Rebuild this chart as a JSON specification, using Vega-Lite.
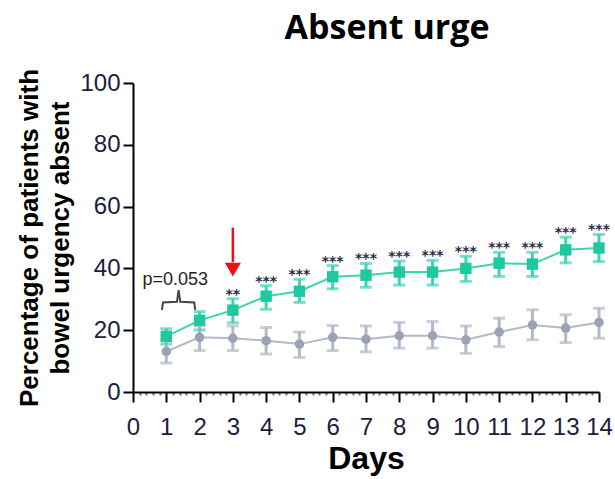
{
  "$schema": "https://vega.github.io/schema/vega-lite/v6.json",
  "width": 466,
  "height": 309,
  "autosize": {"type": "none"},
  "padding": {"left": 133, "top": 83, "right": 16, "bottom": 87},
  "background": "white",
  "title": {"text": "Absent urge", "font": "Open Sans", "fontSize": 34, "fontWeight": "bold", "color": "black", "anchor": "middle", "frame": "group", "dx": 21, "offset": 22},
  "config": {
    "view": {"stroke": null},
    "axis": {"grid": false, "domainColor": "black", "domainWidth": 2, "tickColor": "black", "tickWidth": 2, "tickSize": 10, "labelFont": "Liberation Sans", "labelFontSize": 24, "labelColor": "#1c1c3c", "titleFont": "Liberation Sans", "titleFontWeight": "bold", "titleColor": "black"}
  },
  "datasets": {
    "pts": [
      {"day": 1, "group": "Treatment", "mean": 18.0, "lo": 15.5, "hi": 20.5, "sig": ""},
      {"day": 2, "group": "Treatment", "mean": 23.2, "lo": 20.1, "hi": 26.0, "sig": ""},
      {"day": 3, "group": "Treatment", "mean": 26.5, "lo": 22.4, "hi": 30.2, "sig": "**"},
      {"day": 4, "group": "Treatment", "mean": 31.0, "lo": 26.8, "hi": 34.4, "sig": "***"},
      {"day": 5, "group": "Treatment", "mean": 32.6, "lo": 29.0, "hi": 36.5, "sig": "***"},
      {"day": 6, "group": "Treatment", "mean": 37.3, "lo": 33.4, "hi": 40.9, "sig": "***"},
      {"day": 7, "group": "Treatment", "mean": 37.8, "lo": 33.9, "hi": 41.6, "sig": "***"},
      {"day": 8, "group": "Treatment", "mean": 38.8, "lo": 34.6, "hi": 42.4, "sig": "***"},
      {"day": 9, "group": "Treatment", "mean": 38.8, "lo": 34.6, "hi": 42.6, "sig": "***"},
      {"day": 10, "group": "Treatment", "mean": 40.0, "lo": 35.8, "hi": 43.9, "sig": "***"},
      {"day": 11, "group": "Treatment", "mean": 41.7, "lo": 37.4, "hi": 45.2, "sig": "***"},
      {"day": 12, "group": "Treatment", "mean": 41.4, "lo": 37.4, "hi": 45.2, "sig": "***"},
      {"day": 13, "group": "Treatment", "mean": 46.0, "lo": 41.8, "hi": 50.1, "sig": "***"},
      {"day": 14, "group": "Treatment", "mean": 46.6, "lo": 42.2, "hi": 51.0, "sig": "***"},
      {"day": 1, "group": "Placebo", "mean": 13.1, "lo": 9.4, "hi": 16.9, "sig": ""},
      {"day": 2, "group": "Placebo", "mean": 17.7, "lo": 13.4, "hi": 21.4, "sig": ""},
      {"day": 3, "group": "Placebo", "mean": 17.4, "lo": 13.4, "hi": 21.4, "sig": ""},
      {"day": 4, "group": "Placebo", "mean": 16.6, "lo": 12.3, "hi": 20.9, "sig": ""},
      {"day": 5, "group": "Placebo", "mean": 15.5, "lo": 11.2, "hi": 19.4, "sig": ""},
      {"day": 6, "group": "Placebo", "mean": 17.7, "lo": 13.4, "hi": 21.5, "sig": ""},
      {"day": 7, "group": "Placebo", "mean": 17.1, "lo": 13.0, "hi": 21.4, "sig": ""},
      {"day": 8, "group": "Placebo", "mean": 18.2, "lo": 14.2, "hi": 22.5, "sig": ""},
      {"day": 9, "group": "Placebo", "mean": 18.2, "lo": 14.2, "hi": 22.8, "sig": ""},
      {"day": 10, "group": "Placebo", "mean": 16.9, "lo": 12.5, "hi": 21.4, "sig": ""},
      {"day": 11, "group": "Placebo", "mean": 19.4, "lo": 14.7, "hi": 23.9, "sig": ""},
      {"day": 12, "group": "Placebo", "mean": 21.7, "lo": 16.9, "hi": 26.6, "sig": ""},
      {"day": 13, "group": "Placebo", "mean": 20.7, "lo": 16.0, "hi": 25.0, "sig": ""},
      {"day": 14, "group": "Placebo", "mean": 22.5, "lo": 17.4, "hi": 27.1, "sig": ""}
    ],
    "bracket": [
      {"day": 0.87, "y": 26.6, "o": 1},
      {"day": 0.9, "y": 29.0, "o": 2},
      {"day": 1.32, "y": 29.2, "o": 3},
      {"day": 1.37, "y": 33.0, "o": 4},
      {"day": 1.42, "y": 29.2, "o": 5},
      {"day": 1.84, "y": 29.0, "o": 6},
      {"day": 1.87, "y": 26.6, "o": 7}
    ],
    "notes": [
      {"day": 1.27, "y": 36.3, "text": "p=0.053"}
    ],
    "arrow": [
      {"day": 3, "top": 53.2, "base": 42.0, "tip": 39.6}
    ]
  },
  "encoding": {
    "x": {"field": "day", "type": "quantitative", "scale": {"domain": [0, 14], "nice": false, "zero": false},
      "axis": {"title": "Days", "titleFontSize": 32, "titlePadding": 4, "labelPadding": 13, "labelOverlap": false, "labelFlush": false,
        "values": [0,0.2,0.4,0.6,0.8,1,1.2,1.4,1.6,1.8,2,2.2,2.4,2.6,2.8,3,3.2,3.4,3.6,3.8,4,4.2,4.4,4.6,4.8,5,5.2,5.4,5.6,5.8,6,6.2,6.4,6.6,6.8,7,7.2,7.4,7.6,7.8,8,8.2,8.4,8.6,8.8,9,9.2,9.4,9.6,9.8,10,10.2,10.4,10.6,10.8,11,11.2,11.4,11.6,11.8,12,12.2,12.4,12.6,12.8,13,13.2,13.4,13.6,13.8,14],
        "labelExpr": "datum.value % 1 === 0 ? format(datum.value, 'd') : ''",
        "tickSize": {"condition": {"test": "datum.value % 1 === 0", "value": 10}, "value": 3},
        "tickColor": {"condition": {"test": "datum.value % 1 === 0", "value": "black"}, "value": "#777777"}
      }}
  },
  "layer": [
    {
      "data": {"name": "pts"},
      "mark": {"type": "line", "strokeWidth": 2},
      "encoding": {
        "y": {"field": "mean", "type": "quantitative", "scale": {"domain": [0, 100], "nice": false},
          "axis": {"title": ["Percentage of patients with", "bowel urgency absent"], "titleFontSize": 26, "titleLineHeight": 31, "titlePadding": 6, "labelPadding": 3, "values": [0, 20, 40, 60, 80, 100]}},
        "color": {"field": "group", "type": "nominal", "scale": {"domain": ["Treatment", "Placebo"], "range": ["#3fd3b0", "#b3b9c8"]}, "legend": null}
      }
    },
    {
      "data": {"name": "pts"},
      "mark": {"type": "rule", "strokeWidth": 3},
      "encoding": {
        "y": {"field": "lo", "type": "quantitative", "scale": {"domain": [0, 100], "nice": false}},
        "y2": {"field": "hi"},
        "color": {"field": "group", "type": "nominal", "scale": {"domain": ["Treatment", "Placebo"], "range": ["#1fc89f", "#9aa2b5"]}, "legend": null}
      }
    },
    {
      "data": {"name": "pts"},
      "mark": {"type": "tick", "orient": "horizontal", "size": 12, "thickness": 3},
      "encoding": {
        "y": {"field": "lo", "type": "quantitative", "scale": {"domain": [0, 100], "nice": false}},
        "color": {"field": "group", "type": "nominal", "legend": null}
      }
    },
    {
      "data": {"name": "pts"},
      "mark": {"type": "tick", "orient": "horizontal", "size": 12, "thickness": 3},
      "encoding": {
        "y": {"field": "hi", "type": "quantitative", "scale": {"domain": [0, 100], "nice": false}},
        "color": {"field": "group", "type": "nominal", "legend": null}
      }
    },
    {
      "data": {"name": "pts"},
      "transform": [{"filter": "datum.group === 'Treatment'"}],
      "mark": {"type": "point", "shape": "square", "filled": true, "size": 130, "opacity": 1, "color": "#1fc89f"},
      "encoding": {
        "y": {"field": "mean", "type": "quantitative", "scale": {"domain": [0, 100], "nice": false}}
      }
    },
    {
      "data": {"name": "pts"},
      "transform": [{"filter": "datum.group === 'Placebo'"}],
      "mark": {"type": "point", "shape": "circle", "filled": true, "size": 90, "opacity": 1, "color": "#9aa2b5"},
      "encoding": {
        "y": {"field": "mean", "type": "quantitative", "scale": {"domain": [0, 100], "nice": false}}
      }
    },
    {
      "data": {"name": "pts"},
      "transform": [{"filter": "datum.sig !== ''"}],
      "mark": {"type": "text", "font": "DejaVu Sans", "fontSize": 14, "fontWeight": "bold", "color": "#2a2a4a", "baseline": "alphabetic", "align": "center", "dy": 0},
      "encoding": {
        "y": {"field": "hi", "type": "quantitative", "scale": {"domain": [0, 100], "nice": false}},
        "text": {"field": "sig"}
      }
    },
    {
      "data": {"name": "bracket"},
      "mark": {"type": "line", "color": "#444444", "strokeWidth": 2},
      "encoding": {
        "y": {"field": "y", "type": "quantitative", "scale": {"domain": [0, 100], "nice": false}},
        "order": {"field": "o"}
      }
    },
    {
      "data": {"name": "notes"},
      "mark": {"type": "text", "font": "Liberation Sans", "fontSize": 18, "color": "#222222", "baseline": "middle", "align": "center"},
      "encoding": {
        "y": {"field": "y", "type": "quantitative", "scale": {"domain": [0, 100], "nice": false}},
        "text": {"field": "text"}
      }
    },
    {
      "data": {"name": "arrow"},
      "mark": {"type": "rule", "color": "#ee1111", "strokeWidth": 2.5},
      "encoding": {
        "y": {"field": "top", "type": "quantitative", "scale": {"domain": [0, 100], "nice": false}},
        "y2": {"field": "base"}
      }
    },
    {
      "data": {"name": "arrow"},
      "mark": {"type": "point", "shape": "triangle-down", "filled": true, "size": 260, "color": "#ee1111", "opacity": 1},
      "encoding": {
        "y": {"field": "tip", "type": "quantitative", "scale": {"domain": [0, 100], "nice": false}}
      }
    }
  ]
}
